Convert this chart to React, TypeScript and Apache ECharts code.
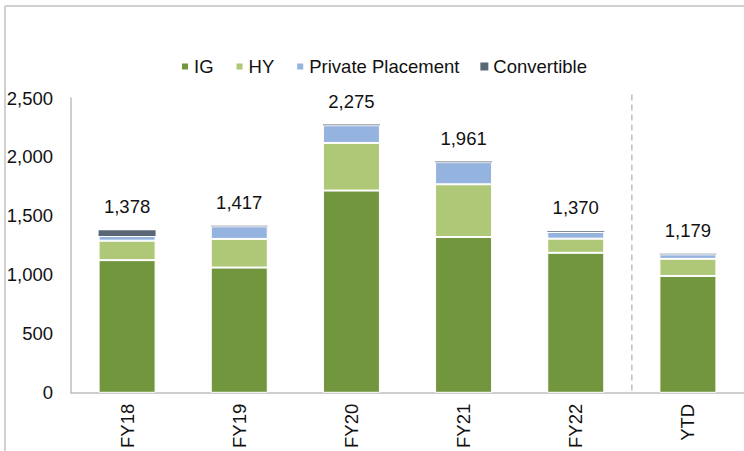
import React, { useEffect, useRef } from "react";
import * as echarts from "echarts";

const categories = ["FY18", "FY19", "FY20", "FY21", "FY22", "YTD"];
const igValues = [1125, 1062, 1715, 1321, 1187, 991];
const hyValues = [165, 243, 404, 447, 120, 145];
const ppValues = [40, 107, 150, 188, 57, 38];
const convValues = [48, 5, 6, 5, 6, 5];
const totals = [1378, 1417, 2275, 1961, 1370, 1179];
const yTicks = { min: 0, max: 2500, interval: 500 };

const FONT = "'Liberation Sans', Arial, sans-serif";
const FS = 18.5;
const TXT = "#111111";

export default function App() {
  const ref = useRef<HTMLDivElement>(null);
  useEffect(() => {
    document.body.style.margin = "0";
    const chart = echarts.init(ref.current!, null, { renderer: "svg" });
    const seg = (name: string, data: number[], color: string, bw: number, extra: any = {}) => ({
      name,
      type: "bar",
      stack: "total",
      data,
      barWidth: 57,
      itemStyle: { color, borderColor: "#ffffff", borderWidth: bw },
      ...extra,
    });
    chart.setOption({
      animation: false,
      textStyle: { fontFamily: FONT },
      legend: {
        left: 175,
        top: 52,
        itemWidth: 8,
        itemHeight: 8,
        itemGap: 21,
        icon: "rect",
        textStyle: { fontSize: FS, color: TXT, fontFamily: FONT },
        data: ["IG", "HY", "Private Placement", "Convertible"],
      },
      grid: { left: 71, top: 98, height: 298, width: 684, containLabel: false },
      xAxis: {
        type: "category",
        data: categories,
        axisLine: { lineStyle: { color: "#BFBFBF", width: 1.5 } },
        axisTick: { show: false },
        axisLabel: { rotate: 90, margin: 11, fontSize: FS, color: TXT, fontFamily: FONT },
      },
      yAxis: {
        type: "value",
        min: yTicks.min,
        max: yTicks.max,
        interval: yTicks.interval,
        splitLine: { show: false },
        axisLine: { show: true, lineStyle: { color: "#BFBFBF", width: 1.5 } },
        axisTick: { show: false },
        axisLabel: {
          margin: 18,
          fontSize: FS,
          color: TXT,
          fontFamily: FONT,
          formatter: (v: number) => v.toLocaleString("en-US"),
        },
      },
      series: [
        seg("IG", igValues, "#71963E", 1),
        seg("HY", hyValues, "#AEC877", 1),
        seg("Private Placement", ppValues, "#95B3DF", 1),
        seg("Convertible", convValues, "#5A6777", 0, {
          label: {
            show: true,
            position: "top",
            distance: 14,
            fontSize: FS,
            color: TXT,
            fontFamily: FONT,
            formatter: (p: any) => totals[p.dataIndex].toLocaleString("en-US"),
          },
        }),
      ],
    });
    const xa = chart.convertToPixel({ xAxisIndex: 0 }, categories[4]) as number;
    const xb = chart.convertToPixel({ xAxisIndex: 0 }, categories[5]) as number;
    const xMid = (xa + xb) / 2;
    const yTop = chart.convertToPixel({ yAxisIndex: 0 }, 2530) as number;
    const yBot = chart.convertToPixel({ yAxisIndex: 0 }, 0) as number;
    chart.setOption({
      graphic: [
        {
          type: "line",
          shape: { x1: xMid, y1: yTop, x2: xMid, y2: yBot },
          style: { stroke: "#BFBFBF", lineWidth: 1.5, lineDash: [6, 4] },
          z: 1,
        },
        {
          type: "line",
          shape: { x1: 5, y1: 6, x2: 744, y2: 6 },
          style: { stroke: "#D0D0D0", lineWidth: 2 },
        },
        {
          type: "line",
          shape: { x1: 5, y1: 6, x2: 5, y2: 451 },
          style: { stroke: "#D0D0D0", lineWidth: 2 },
        },
      ],
    });
    return () => chart.dispose();
  }, []);
  return <div ref={ref} style={{ width: 744, height: 451 }} />;
}
